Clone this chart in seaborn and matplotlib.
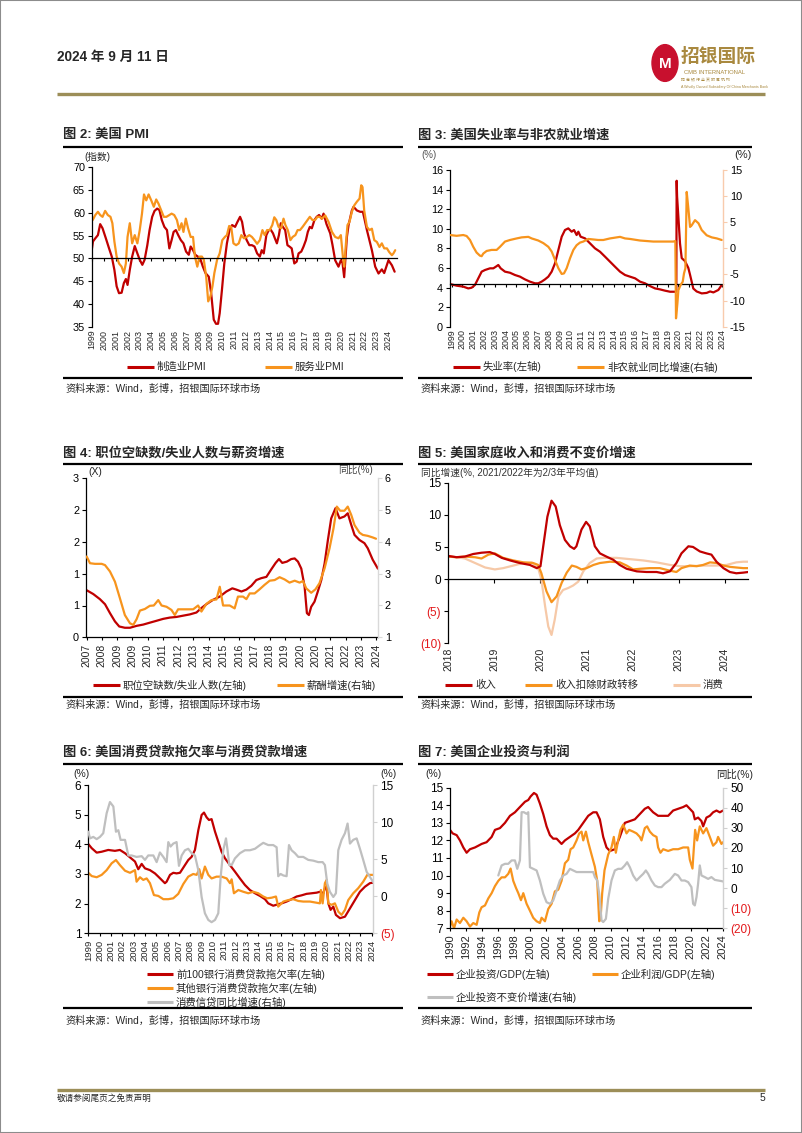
import matplotlib
matplotlib.use("Agg")
import matplotlib.pyplot as plt
import seaborn as sns
from matplotlib.lines import Line2D
from matplotlib.patches import Circle, Rectangle

# ---------------- data ----------------
# Chart 2: US PMI
c2_mfg_x = [1999.0,1999.08,1999.28,1999.5,1999.69,1999.89,2000.17,2000.44,2000.67,2000.89,2001.08,2001.28,2001.5,2001.69,2001.86,2002.0,
            2002.19,2002.39,2002.61,2002.83,2003.03,2003.25,2003.44,2003.67,2003.86,2004.08,2004.28,2004.5,2004.69,2004.89,2005.11,2005.33,
            2005.53,2005.72,2005.89,2006.08,2006.28,2006.5,2006.72,2006.94,2007.17,2007.33,2007.53,2007.72,2007.94,2008.17,2008.36,2008.58,
            2008.86,2009.06,2009.28,2009.47,2009.64,2009.78,2009.97,2010.17,2010.39,2010.61,2010.83,2011.08,2011.28,2011.5,2011.67,2011.83,
            2012.06,2012.28,2012.5,2012.72,2012.94,2013.17,2013.33,2013.5,2013.72,2013.92,2014.11,2014.28,2014.44,2014.61,2014.78,2014.94,
            2015.11,2015.31,2015.5,2015.67,2015.86,2016.08,2016.28,2016.44,2016.67,2016.86,2017.06,2017.22,2017.39,2017.56,2017.78,2017.97,
            2018.17,2018.39,2018.55,2018.8,2019.11,2019.3,2019.53,2019.81,2020.01,2020.15,2020.29,2020.52,2020.66,2020.94,2021.08,2021.36,
            2021.64,2021.87,2022.21,2022.63,2022.91,2023.19,2023.47,2023.67,2024.03,2024.32,2024.55]
c2_mfg = [52.2,53.7,54.4,55.1,57.5,56.6,54.4,52.2,50.4,47.5,43.9,42.4,42.5,44.6,45.5,44.2,
          47.5,50.4,52.7,51.1,49.7,48.6,49.7,52.9,56.2,59.1,60.4,60.9,60.6,58.4,56.9,56.2,
          52.2,54.0,55.8,56.2,55.1,54.0,53.3,51.5,50.8,52.6,51.8,50.8,50.4,49.7,48.2,46.8,
          46.0,42.4,36.6,35.7,35.7,38.0,43.1,48.9,53.3,56.2,57.3,56.9,58.0,59.1,58.0,55.5,
          54.0,52.9,52.9,52.6,51.1,50.4,51.8,51.1,55.1,56.2,56.2,55.5,54.4,53.3,55.1,57.7,
          56.9,56.2,52.9,52.6,52.2,48.9,49.3,51.1,51.5,52.6,54.0,55.8,56.9,56.6,58.4,59.1,
          59.5,58.7,59.8,57.5,55.5,53.0,49.6,48.2,49.6,49.0,45.9,54.7,57.3,60.5,61.3,60.5,
          60.2,60.2,56.2,51.8,48.2,46.7,47.6,46.8,49.6,48.5,47.1]
c2_svc_x = [1999.0,1999.06,1999.28,1999.5,1999.69,1999.89,2000.11,2000.33,2000.56,2000.72,2000.89,2001.08,2001.28,2001.5,2001.69,2001.86,
            2002.0,2002.19,2002.39,2002.61,2002.83,2003.03,2003.22,2003.39,2003.58,2003.78,2004.0,2004.22,2004.42,2004.61,2004.83,2005.06,
            2005.28,2005.53,2005.72,2005.94,2006.17,2006.36,2006.56,2006.72,2006.92,2007.11,2007.33,2007.53,2007.69,2007.89,2008.08,2008.28,
            2008.44,2008.64,2008.81,2009.0,2009.17,2009.33,2009.56,2009.78,2010.0,2010.22,2010.39,2010.58,2010.75,2010.94,2011.17,2011.39,
            2011.61,2011.83,2012.06,2012.28,2012.5,2012.72,2012.94,2013.17,2013.39,2013.58,2013.78,2014.0,2014.22,2014.39,2014.56,2014.75,
            2014.97,2015.17,2015.33,2015.53,2015.75,2015.94,2016.17,2016.36,2016.56,2016.78,2017.0,2017.19,2017.39,2017.61,2017.83,2018.03,
            2018.22,2018.41,2018.69,2018.97,2019.26,2019.53,2019.81,2020.01,2020.18,2020.29,2020.46,2020.57,2020.74,2020.94,2021.14,2021.36,
            2021.59,2021.73,2021.84,2021.98,2022.21,2022.43,2022.63,2022.83,2023.05,2023.27,2023.47,2023.67,2023.9,2024.09,2024.32,2024.45,2024.6]
c2_svc = [58.7,58.4,59.5,60.2,59.5,59.1,60.4,59.5,59.1,57.7,53.7,50.4,48.9,48.2,46.8,48.9,
          54.7,57.7,53.3,55.1,53.3,56.2,59.8,64.0,62.7,64.0,62.7,61.3,62.9,62.0,60.6,59.1,
          59.1,59.5,59.8,59.5,58.4,56.2,57.7,55.8,58.7,56.6,54.7,54.7,50.4,48.2,50.4,50.4,
          49.7,46.0,40.6,41.7,43.9,46.8,49.7,51.1,54.0,54.7,55.1,57.1,56.9,53.3,52.9,53.3,
          55.1,54.4,54.7,55.1,54.7,54.0,53.2,54.0,56.2,55.1,56.2,56.2,57.3,59.0,58.4,56.9,
          56.6,58.7,57.3,56.2,54.0,54.7,55.1,56.2,56.2,56.9,57.7,58.4,59.1,58.4,58.4,59.1,
          59.1,58.7,59.4,58.0,55.8,54.7,54.4,55.1,50.4,48.2,54.0,57.3,58.0,60.2,61.6,62.4,
          63.1,66.0,65.6,60.5,56.9,56.2,56.5,54.0,53.6,52.5,53.3,52.2,52.2,51.4,50.7,51.1,51.8]
c2_years = [str(y) for y in range(1999, 2025)]

# Chart 3: unemployment rate (left) and nonfarm payroll yoy (right)
c3_ur_x = [1998.85,1999.46,2000.08,2000.54,2000.85,2001.16,2001.47,2001.78,2002.09,2002.55,2002.86,2003.1,2003.32,2003.54,2003.94,2004.4,
           2004.86,2005.33,2005.79,2006.25,2006.72,2007.02,2007.33,2007.64,2007.95,2008.26,2008.57,2008.88,2009.19,2009.49,2009.8,2010.11,
           2010.33,2010.57,2010.73,2010.94,2011.35,2011.81,2012.27,2012.73,2013.2,2013.66,2014.12,2014.59,2015.05,2015.51,2015.98,2016.44,
           2016.9,2017.36,2017.83,2018.29,2018.75,2019.22,2019.68,2019.8,2019.83,2019.87,2019.99,2020.14,2020.3,2020.6,2020.91,2021.07,
           2021.37,2021.68,2022.15,2022.61,2022.92,2023.23,2023.69,2024.0]
c3_ur = [4.36,4.19,4.09,3.91,3.98,4.26,4.94,5.62,5.79,5.96,5.96,6.13,6.30,5.96,5.62,5.51,
         5.28,5.11,4.83,4.60,4.43,4.43,4.60,4.83,5.11,5.62,6.47,7.83,9.19,9.87,10.04,9.70,
         9.87,9.36,9.70,9.19,9.02,8.51,8.00,7.66,7.15,6.64,6.13,5.62,5.28,5.11,4.94,4.60,
         4.43,4.15,3.91,3.81,3.68,3.57,3.57,3.6,14.9,13.3,11.2,8.5,7.0,6.7,6.0,5.3,
         3.9,3.6,3.4,3.45,3.6,3.5,3.75,4.25]
c3_nfp_x = [1998.85,1999.46,2000.08,2000.39,2000.7,2001.0,2001.31,2001.62,2001.78,2001.93,2002.24,2002.7,2003.17,2003.48,2003.94,2004.4,
            2005.02,2005.48,2006.1,2006.41,2007.02,2007.49,2007.95,2008.26,2008.57,2008.88,2009.19,2009.4,2009.65,2009.96,2010.27,2010.57,
            2010.88,2011.19,2011.65,2012.58,2013.04,2013.66,2014.59,2015.05,2015.51,2016.44,2017.67,2018.91,2019.52,2019.71,2019.77,2019.9,
            2019.99,2020.2,2020.39,2020.51,2020.64,2020.76,2020.91,2021.07,2021.22,2021.53,2021.85,2022.15,2022.61,2023.08,2023.55,2024.0]
c3_nfp = [2.55,2.4,2.55,2.36,1.6,0.3,-0.8,-1.4,-1.5,-1.0,-0.5,-0.3,-0.3,0.3,1.3,1.6,
          1.9,2.1,2.2,1.9,1.5,1.0,0.3,-0.6,-2.2,-3.8,-4.9,-4.8,-3.8,-1.9,-0.3,0.6,
          1.1,1.3,1.8,1.6,1.6,1.9,2.2,1.9,1.8,1.5,1.3,1.3,1.3,1.4,-13.4,-10.5,
          -8.0,-7.0,-6.4,-4.8,-3.8,10.8,7.7,4.1,4.4,5.4,4.8,3.5,2.5,2.1,1.9,1.6]
c3_years = [str(y) for y in range(1999, 2025)]

# Chart 4: job openings / unemployed (left) and wage growth (right)
c4_vu_x = [2007.0,2007.4,2007.8,2008.11,2008.41,2008.71,2008.97,2009.31,2009.62,2010.02,2010.42,2010.82,2011.23,2011.63,2012.03,2012.43,
           2012.83,2013.24,2013.64,2013.94,2014.24,2014.65,2015.05,2015.45,2015.81,2016.05,2016.36,2016.66,2016.96,2017.26,2017.56,2017.87,
           2018.17,2018.43,2018.63,2018.83,2019.11,2019.37,2019.58,2019.78,2019.98,2020.18,2020.32,2020.44,2020.58,2020.78,2020.98,2021.19,
           2021.39,2021.59,2021.79,2022.05,2022.29,2022.59,2022.79,2023.0,2023.2,2023.5,2023.8,2024.0,2024.3,2024.61]
c4_vu = [0.74,0.68,0.60,0.52,0.38,0.25,0.17,0.15,0.15,0.18,0.20,0.23,0.26,0.29,0.31,0.32,
         0.34,0.36,0.39,0.46,0.52,0.59,0.64,0.72,0.77,0.75,0.72,0.75,0.81,0.90,0.93,0.95,
         1.07,1.17,1.23,1.17,1.19,1.23,1.24,1.19,1.08,0.80,0.38,0.35,0.48,0.56,0.72,0.90,
         1.16,1.53,1.87,2.03,1.87,1.90,1.95,1.77,1.61,1.53,1.48,1.40,1.22,1.08]
c4_wage_x = [2007.0,2007.2,2007.5,2007.91,2008.11,2008.41,2008.71,2009.01,2009.31,2009.62,2009.82,2010.02,2010.22,2010.52,2010.82,2011.06,
             2011.33,2011.53,2011.83,2012.13,2012.33,2012.53,2012.94,2013.44,2013.74,2013.94,2014.24,2014.55,2014.85,2015.05,2015.25,2015.65,
             2015.95,2016.15,2016.46,2016.66,2016.86,2017.16,2017.46,2017.76,2018.07,2018.37,2018.67,2018.97,2019.27,2019.58,2019.88,2020.08,
             2020.28,2020.58,2020.84,2021.08,2021.39,2021.69,2021.93,2022.13,2022.33,2022.59,2022.79,2023.0,2023.2,2023.5,2023.7,2024.0,
             2024.3,2024.5]
c4_wage = [3.54,3.33,3.31,3.31,3.27,3.07,2.75,2.23,1.70,1.44,1.39,1.57,1.84,1.89,1.99,2.00,
           2.17,2.00,1.96,1.86,1.70,1.88,1.88,1.88,2.00,1.81,2.05,2.17,2.19,2.59,2.00,2.00,
           1.91,2.28,2.28,2.20,2.38,2.38,2.51,2.65,2.78,2.80,2.89,2.82,2.72,2.78,2.72,2.77,
           2.54,2.40,2.51,2.70,3.17,3.80,4.43,5.11,4.98,4.98,5.11,4.85,4.53,4.29,4.22,4.19,
           4.14,4.10]
c4_labels = ['2007','2008','2009','2009','2010','2011','2012','2013','2014','2015','2016','2017','2018','2019','2020','2020',
             '2021','2022','2023','2024']
c4_left_labels = ['0','1','1','2','2','3']

# Chart 5: household income and consumption growth
c5_inc_x = [2018.0,2018.18,2018.36,2018.54,2018.72,2018.9,2019.01,2019.16,2019.34,2019.55,2019.77,2019.92,2020.0,2020.06,2020.15,2020.24,
            2020.33,2020.42,2020.53,2020.64,2020.73,2020.78,2020.89,2020.99,2021.07,2021.18,2021.29,2021.43,2021.58,2021.72,2021.87,2022.09,
            2022.3,2022.52,2022.66,2022.81,2022.95,2023.06,2023.21,2023.31,2023.46,2023.6,2023.71,2023.82,2023.97,2024.11,2024.25,2024.4,2024.51]
c5_inc = [3.6,3.4,3.5,3.9,4.1,4.2,3.9,3.3,2.9,2.5,2.2,1.7,2.0,5.1,9.7,12.2,
          11.3,8.4,6.1,5.1,4.7,5.1,7.7,8.9,8.2,5.1,4.0,3.5,3.0,2.2,1.6,1.2,
          1.1,1.1,0.9,1.2,2.5,4.0,5.1,5.0,4.3,4.0,3.8,2.7,1.7,1.1,0.9,1.0,1.1]
c5_exT_x = [2018.0,2018.18,2018.36,2018.58,2018.72,2018.87,2019.01,2019.19,2019.41,2019.63,2019.84,2019.95,2020.02,2020.13,2020.24,2020.35,
            2020.46,2020.57,2020.68,2020.78,2020.89,2021.0,2021.15,2021.29,2021.51,2021.72,2021.87,2022.01,2022.16,2022.37,2022.59,2022.81,
            2022.95,2023.06,2023.24,2023.39,2023.53,2023.68,2023.82,2023.97,2024.11,2024.25,2024.4,2024.51]
c5_exT = [3.5,3.4,3.5,3.4,3.2,3.8,4.0,3.3,2.9,2.6,2.5,2.2,0.9,-1.9,-3.6,-2.7,
          -0.6,1.0,2.1,1.9,1.5,1.7,2.2,2.5,2.7,2.6,2.1,1.5,1.6,1.7,1.7,1.3,
          1.1,1.7,2.1,2.0,2.2,2.6,2.5,2.1,1.9,1.8,1.7,1.7]
c5_con_x = [2018.0,2018.18,2018.36,2018.58,2018.8,2019.01,2019.19,2019.41,2019.63,2019.81,2019.95,2020.02,2020.1,2020.17,2020.24,2020.31,
            2020.39,2020.49,2020.6,2020.71,2020.82,2020.93,2021.07,2021.22,2021.36,2021.65,2021.94,2022.23,2022.52,2022.81,2023.03,2023.24,
            2023.53,2023.82,2024.04,2024.25,2024.4,2024.51]
c5_con = [3.5,3.4,3.2,2.5,1.8,1.5,1.7,2.1,2.5,2.6,1.7,-0.1,-4.2,-7.4,-8.7,-6.3,
          -2.7,-1.7,-1.4,-1.0,-0.4,1.2,2.5,3.2,3.3,3.3,3.1,2.9,2.6,2.2,2.0,2.0,
          2.1,2.1,2.2,2.6,2.7,2.7]
c5_years = [str(y) for y in range(2018, 2025)]
c5_ylabels = ['(10)', '(5)', '0', '5', '10', '15']

# Chart 6: consumer loan delinquency and consumer credit growth
c6_top_x = [1999.0,1999.3,1999.74,2000.18,2000.76,2001.35,2001.79,2002.24,2002.68,2003.12,2003.41,2003.71,2004.0,2004.44,2004.88,2005.18,
            2005.47,2005.76,2005.91,2006.21,2006.5,2006.79,2007.09,2007.53,2007.82,2008.12,2008.41,2008.71,2009.0,2009.21,2009.44,2009.65,
            2009.88,2010.18,2010.47,2010.76,2011.06,2011.5,2011.94,2012.38,2012.82,2013.26,2013.71,2014.15,2014.59,2014.88,2015.32,2015.76,
            2016.06,2016.5,2016.94,2017.38,2017.82,2018.26,2018.71,2019.15,2019.44,2019.74,2019.88,2020.03,2020.18,2020.38,2020.62,2020.85,
            2021.21,2021.65,2022.09,2022.53,2022.97,2023.41,2023.85,2024.15]
c6_top = [4.01,3.87,3.72,3.75,3.81,3.78,3.81,3.70,3.56,3.42,3.16,3.34,3.19,3.13,3.02,2.91,
          2.80,2.69,2.74,2.97,3.04,3.02,3.04,3.30,3.47,3.58,3.81,4.48,4.99,5.07,4.91,4.82,
          4.85,4.43,4.09,3.75,3.53,3.30,3.08,2.85,2.63,2.46,2.35,2.26,2.15,2.01,1.93,1.98,
          2.01,2.07,2.15,2.24,2.28,2.33,2.35,2.37,2.40,2.35,2.52,2.57,2.01,1.79,1.90,1.62,
          1.51,1.56,1.84,2.12,2.40,2.57,2.69,2.71]
c6_oth_x = [1999.0,1999.3,1999.74,2000.18,2000.62,2001.06,2001.44,2001.79,2002.24,2002.68,2003.12,2003.26,2003.56,2003.85,2004.15,2004.44,
            2004.79,2005.18,2005.62,2006.06,2006.5,2006.94,2007.38,2007.82,2008.26,2008.56,2008.79,2009.0,2009.29,2009.59,2009.88,2010.32,
            2010.76,2011.21,2011.5,2011.65,2011.85,2012.24,2012.68,2013.12,2013.56,2014.0,2014.44,2014.79,2015.18,2015.56,2015.76,2016.21,
            2016.65,2017.09,2017.53,2017.97,2018.56,2019.15,2019.44,2019.53,2019.68,2019.88,2020.03,2020.18,2020.47,2020.76,2021.06,2021.35,
            2021.65,2021.94,2022.38,2022.82,2023.26,2023.62,2023.85,2024.15]
c6_oth = [3.04,2.93,2.89,2.97,3.13,3.36,3.47,3.30,3.11,3.04,3.13,2.74,2.89,2.80,2.85,2.69,
          2.29,2.26,2.15,2.15,2.18,2.33,2.66,2.91,3.00,2.97,3.16,2.85,3.25,2.97,2.85,2.91,
          2.91,2.85,2.69,2.82,2.35,2.46,2.40,2.35,2.40,2.35,2.24,2.18,2.20,2.24,1.90,2.07,
          2.12,2.15,2.09,2.07,2.07,2.03,2.01,2.46,2.01,2.69,2.80,2.01,1.96,2.01,1.73,1.62,
          1.79,2.12,2.35,2.52,2.74,2.97,2.97,2.97]
c6_cc_x = [1999.0,1999.15,1999.44,1999.74,2000.03,2000.32,2000.62,2000.91,2001.21,2001.44,2001.65,2001.85,2002.24,2002.53,2002.82,2003.26,
           2003.71,2004.0,2004.29,2004.74,2005.03,2005.32,2005.62,2005.91,2006.06,2006.26,2006.5,2006.79,2007.0,2007.24,2007.53,2007.82,
           2008.12,2008.41,2008.71,2009.0,2009.29,2009.59,2009.88,2010.18,2010.47,2010.68,2010.91,2011.15,2011.29,2011.44,2011.65,2011.94,
           2012.38,2012.82,2013.26,2013.71,2014.15,2014.44,2014.88,2015.32,2015.62,2015.76,2015.97,2016.21,2016.5,2016.71,2016.94,2017.24,
           2017.53,2017.97,2018.41,2018.85,2019.29,2019.68,2019.88,2020.09,2020.32,2020.62,2020.85,2021.06,2021.35,2021.65,2021.88,2022.09,
           2022.38,2022.68,2022.97,2023.26,2023.56,2023.85,2024.15]
c6_cc = [8.7,7.8,8.0,7.7,8.0,8.5,11.2,12.7,12.1,8.7,8.9,7.6,7.6,5.5,5.5,5.3,
         5.4,4.9,5.5,5.5,4.6,5.9,5.3,4.6,7.3,6.7,7.1,7.3,4.1,5.5,6.2,6.4,
         5.8,5.5,3.5,-0.1,-2.3,-3.2,-3.5,-3.2,-2.3,2.6,6.2,7.8,6.2,4.2,4.2,5.1,
         5.8,6.2,6.2,6.4,6.9,7.2,6.9,6.9,6.6,2.7,3.0,2.8,2.7,6.9,6.2,5.8,
         5.3,5.3,4.9,4.8,4.6,4.6,4.2,1.7,0.6,-0.1,0.4,6.2,7.6,8.5,9.8,7.1,
         7.6,7.8,6.4,4.9,3.3,2.6,1.9]
c6_years = [str(y) for y in range(1999, 2025)]
c6_right_labels = ['(5)', '0', '5', '10', '15']

# Chart 7: business investment and profits
c7_inv_x = [1990.0,1990.33,1990.83,1991.24,1991.66,1992.07,1992.49,1993.11,1993.53,1993.94,1994.56,1995.19,1995.6,1996.22,1996.85,1997.47,
            1998.09,1998.71,1999.34,1999.75,2000.04,2000.46,2000.79,2001.2,2001.62,2002.03,2002.45,2002.86,2003.28,2003.9,2004.32,2004.94,
            2005.56,2005.98,2006.6,2007.22,2007.84,2008.26,2008.67,2009.09,2009.5,2009.92,2010.54,2011.16,2011.78,2012.41,2013.03,2013.65,
            2014.27,2014.69,2015.31,2015.93,2016.56,2017.18,2017.8,2018.42,2019.05,2019.46,2019.88,2020.29,2020.5,2020.91,2021.33,2021.54,
            2021.95,2022.37,2022.78,2023.2,2023.61,2024.02]
c7_inv = [12.6,12.4,12.3,12.0,11.6,11.3,11.5,11.6,11.7,11.8,11.9,12.2,12.6,12.7,13.0,13.4,
          13.6,13.9,14.2,14.3,14.5,14.7,14.6,14.1,13.5,12.8,12.3,12.1,12.1,11.8,12.0,12.2,
          12.4,12.6,13.0,13.4,13.6,13.6,13.2,12.2,11.6,11.4,11.5,12.2,13.0,13.1,13.2,13.5,
          13.8,13.9,13.6,13.4,13.4,13.4,13.7,13.8,13.9,14.0,13.8,13.6,13.2,13.3,13.1,12.8,
          13.3,13.4,13.6,13.7,13.6,13.7]
c7_prof_x = [1990.0,1990.2,1990.5,1990.83,1991.24,1991.66,1992.07,1992.49,1992.9,1993.32,1993.65,1993.94,1994.36,1994.77,1995.19,1995.6,
             1996.02,1996.43,1996.85,1997.26,1997.55,1997.88,1998.22,1998.51,1998.84,1999.13,1999.54,1999.96,2000.37,2000.79,2001.2,2001.41,
             2001.83,2002.24,2002.66,2003.07,2003.49,2003.9,2004.32,2004.73,2005.02,2005.35,2005.77,2006.1,2006.39,2006.6,2006.93,2007.22,
             2007.63,2008.05,2008.34,2008.59,2008.75,2008.96,2009.25,2009.71,2010.12,2010.41,2010.66,2010.95,2011.24,2011.58,2011.99,2012.32,
             2012.82,2013.24,2013.65,2013.86,2014.27,2014.56,2014.9,2015.31,2015.73,2015.93,2016.22,2016.56,2017.18,2017.8,2018.42,2019.05,
             2019.67,2019.88,2020.21,2020.37,2020.54,2020.79,2021.12,2021.54,2021.95,2022.37,2022.78,2023.2,2023.4,2023.82,2024.02]
c7_prof = [7.1,7.4,7.0,7.5,7.3,7.6,7.4,7.1,7.3,7.2,7.9,8.2,8.3,8.7,9.0,9.4,
           9.7,9.9,9.9,10.1,10.4,9.7,9.3,9.0,8.6,9.0,8.4,8.0,7.6,7.4,7.3,7.6,
           7.4,8.1,8.4,9.1,9.2,9.7,10.7,10.9,11.5,11.6,12.0,12.4,12.5,12.0,12.5,11.9,
           11.2,10.5,9.7,7.4,7.5,9.0,10.3,11.2,11.6,12.2,11.3,12.0,12.6,12.9,12.4,12.6,
           12.5,12.4,12.2,12.0,12.7,12.8,12.5,12.3,12.2,11.6,11.3,11.5,11.4,11.5,11.5,11.6,
           11.6,10.9,10.4,11.5,12.6,12.0,12.8,12.4,12.7,12.2,11.7,11.9,12.2,11.8,11.9]
c7_gr_x = [1996.02,1996.43,1996.85,1997.26,1997.68,1998.09,1998.38,1998.71,1998.92,1999.21,1999.54,1999.75,1999.96,2000.37,2000.79,2001.2,
           2001.62,2002.03,2002.45,2002.86,2003.28,2003.69,2004.11,2004.52,2004.94,2005.35,2005.77,2006.18,2006.6,2007.01,2007.43,2007.84,
           2008.05,2008.34,2008.59,2008.88,2009.09,2009.42,2009.71,2010.12,2010.54,2010.95,2011.37,2011.78,2012.07,2012.41,2012.82,2013.24,
           2013.65,2014.07,2014.4,2014.69,2015.1,2015.52,2015.93,2016.35,2016.76,2017.39,2018.01,2018.42,2018.84,2019.25,2019.67,2020.08,
           2020.29,2020.5,2020.71,2020.91,2021.12,2021.33,2021.74,2022.16,2022.57,2022.99,2023.4,2023.82,2024.02]
c7_gr = [6.3,11.3,12.1,12.1,13.8,13.8,9.6,13.8,37.8,37.8,37.0,37.8,10.4,9.6,8.8,3.8,
         -2.8,-7.0,-7.8,-6.1,-1.2,3.8,6.3,7.1,9.6,8.8,8.0,8.0,8.0,8.0,8.0,8.0,
         5.5,3.8,-2.8,-16.1,-16.9,-15.3,-5.3,3.8,8.8,9.6,9.6,11.3,12.9,10.4,6.3,3.8,
         5.5,7.1,8.8,7.1,3.8,1.3,0.5,0.5,2.2,4.1,7.1,6.3,3.8,3.8,3.0,0.5,
         -7.8,-8.6,-4.5,2.2,11.3,6.3,5.5,4.6,5.5,4.1,3.8,3.5,3.3]
c7_years = [str(y) for y in range(1990, 2025, 2)]
c7_right_labels = ['(20)', '(10)', '0', '10', '20', '30', '40', '50']

# ---------------- styling ----------------
RED = '#C00000'
ORANGE = '#F7941D'
PEACH = '#F6C9A8'
GRAY = '#BFBFBF'
NEG = '#E3191C'
GOLD = '#9C8E58'
W, H = 802, 1133

sns.set_theme(style='white')
plt.rcParams['font.family'] = ['Liberation Sans', 'Noto Sans CJK SC']
plt.rcParams['axes.unicode_minus'] = False

fig = plt.figure(figsize=(W / 100, H / 100), dpi=100)
fig.patch.set_facecolor('white')


def add_ax(l, t, r, b):
    ax = fig.add_axes([l / W, 1 - b / H, (r - l) / W, (b - t) / H])
    ax.set_facecolor('none')
    return ax


def ftext(x, y, s, size, **kw):
    kw.setdefault('va', 'center')
    kw.setdefault('ha', 'left')
    fig.text(x / W, 1 - y / H, s, fontsize=size, **kw)


def fline(x0, x1, y, color='black', lw=1.5):
    fig.add_artist(Line2D([x0 / W, x1 / W], [1 - y / H, 1 - y / H], color=color, lw=lw,
                          transform=fig.transFigure, solid_capstyle='butt'))


def draw(ax, x, y, color, lw=1.6):
    sns.lineplot(x=x, y=y, ax=ax, color=color, linewidth=lw, estimator=None, sort=False, legend=False)
    ax.set_xlabel('')
    ax.set_ylabel('')


def left_style(ax, yticks, labels, size, colors=None):
    for s in ['top', 'right']:
        ax.spines[s].set_visible(False)
    for s in ['left', 'bottom']:
        ax.spines[s].set_color('black')
        ax.spines[s].set_linewidth(0.9)
    ax.set_yticks(yticks)
    ax.set_yticklabels(labels)
    ax.tick_params(axis='y', left=True, direction='out', length=3, width=0.8, labelsize=size, pad=2,
                   colors='black')
    if colors:
        for t, c in zip(ax.get_yticklabels(), colors):
            t.set_color(c)
    ax.grid(False)


def right_style(ax2, ylim, yticks, labels, size, spine_color, colors=None):
    ax2.set_ylim(*ylim)
    for s in ['top', 'left', 'bottom']:
        ax2.spines[s].set_visible(False)
    ax2.spines['right'].set_color(spine_color)
    ax2.spines['right'].set_linewidth(1.0)
    ax2.set_yticks(yticks)
    ax2.set_yticklabels(labels)
    ax2.tick_params(axis='y', right=True, left=False, direction='out', length=3, width=0.8,
                    color=spine_color, labelsize=size, pad=2, labelcolor='black')
    if colors:
        for t, c in zip(ax2.get_yticklabels(), colors):
            t.set_color(c)
    ax2.grid(False)


def x_labels(ax, pos, labels, size, pad=2, ticklen=2.5):
    ax.set_xticks(pos)
    ax.tick_params(axis='x', bottom=True, direction='out', length=ticklen, width=0.8, color='black',
                   labelbottom=False)
    sec = ax.secondary_xaxis('bottom')
    sec.set_xticks(pos)
    sec.set_xticklabels(labels, rotation=90, fontsize=size)
    sec.tick_params(axis='x', length=0, pad=pad)
    sec.spines['bottom'].set_visible(False)
    return sec


def legend_item(x0, y, color, label, size=7.5, length=27, lw=2.2):
    fline(x0, x0 + length, y, color=color, lw=lw)
    ftext(x0 + length + 3, y, label, size)


# ---------------- page furniture ----------------
fig.add_artist(Rectangle((0, 0), 1, 1, transform=fig.transFigure, fill=False, edgecolor='#8c8c8c', lw=1.5))
ftext(57, 57, '2024 年 9 月 11 日', 9.8, fontweight='bold')
fline(57, 765, 94, color=GOLD, lw=2.4)
fig.add_artist(Circle((665 / W, 1 - 63 / H), 13 / W, transform=fig.transFigure, color='#C8102E'))
ftext(665, 64, 'M', 11, ha='center', color='white', fontweight='bold')
ftext(681, 57, '招银国际', 13.5, color='#A9893F', fontweight='bold')
ftext(684, 72, 'CMB INTERNATIONAL', 4.2, color='#A9893F')
ftext(681, 81, '招 商 银 行 全 资 附 属 机 构', 2.8, color='#A9893F')
ftext(681, 87, 'A Wholly Owned Subsidiary Of China Merchants Bank', 2.6, color='#A9893F')
fline(57, 765, 1090, color=GOLD, lw=2.4)
ftext(57, 1098, '敬请参阅尾页之免责声明', 6.2)
ftext(765, 1098, '5', 7.5, ha='right')

# titles, rules, sources
for (x0, x1, ty, r1, r2, sy, title) in [
        (63, 403, 135, 147, 378, 389, '图 2: 美国 PMI'),
        (418, 752, 135, 147, 378, 389, '图 3: 美国失业率与非农就业增速'),
        (63, 403, 453, 464, 697, 705, '图 4: 职位空缺数/失业人数与薪资增速'),
        (418, 752, 453, 464, 697, 705, '图 5: 美国家庭收入和消费不变价增速'),
        (63, 403, 752, 764, 1008, 1021, '图 6: 美国消费贷款拖欠率与消费贷款增速'),
        (418, 752, 752, 764, 1008, 1021, '图 7: 美国企业投资与利润')]:
    ftext(x0, ty, title, 9.5, fontweight='bold')
    fline(x0, x1, r1, lw=1.6)
    fline(x0, x1, r2, lw=1.6)
    ftext(x0 + 2, sy, '资料来源：Wind，彭博，招银国际环球市场', 7.3)

# ---------------- chart 2 ----------------
ax = add_ax(92, 167, 397, 327)
draw(ax, c2_mfg_x, c2_mfg, RED)
draw(ax, c2_svc_x, c2_svc, ORANGE)
ax.set_xlim(1999.0, 2024.75)
ax.set_ylim(35, 70)
left_style(ax, list(range(35, 71, 5)), [str(v) for v in range(35, 71, 5)], 7.8)
ax.spines['bottom'].set_position(('data', 50))
x_labels(ax, list(range(1999, 2025)), c2_years, 6.4, pad=2)
ftext(84, 157, '(指数)', 7)
legend_item(127, 367, RED, '制造业PMI')
legend_item(265, 367, ORANGE, '服务业PMI')

# ---------------- chart 3 ----------------
ax = add_ax(450, 170, 723, 326.7)
draw(ax, c3_ur_x, c3_ur, RED)
ax.set_xlim(1998.85, 2024.12)
ax.set_ylim(0, 16)
left_style(ax, list(range(0, 17, 2)), [str(v) for v in range(0, 17, 2)], 7.8)
ax.spines['bottom'].set_position(('data', 4.35))
x_labels(ax, list(range(1999, 2025)), c3_years, 6.4, pad=2)
ax2 = ax.twinx()
draw(ax2, c3_nfp_x, c3_nfp, ORANGE)
ax2.set_xlim(1998.85, 2024.12)
right_style(ax2, (-15, 15), list(range(-15, 16, 5)), [str(v) for v in range(-15, 16, 5)], 7.8, '#F8CBAD')
ftext(421, 155, '(%)', 7, color='#555555')
ftext(752, 155, '(%)', 8, ha='right')
legend_item(453, 367, RED, '失业率(左轴)')
legend_item(577, 367, ORANGE, '非农就业同比增速(右轴)')

# ---------------- chart 4 ----------------
ax = add_ax(86, 478.3, 378, 637.3)
draw(ax, c4_vu_x, c4_vu, RED)
ax.set_xlim(2006.96, 2024.62)
ax.set_ylim(0, 2.5)
left_style(ax, [0, 0.5, 1.0, 1.5, 2.0, 2.5], c4_left_labels, 7.8)
c4_pos = [2007 + 0.9215 * k for k in range(len(c4_labels))]
x_labels(ax, c4_pos, c4_labels, 7.5, pad=4.5, ticklen=2.5)
ax2 = ax.twinx()
draw(ax2, c4_wage_x, c4_wage, ORANGE)
ax2.set_xlim(2006.96, 2024.62)
right_style(ax2, (1, 6), [1, 2, 3, 4, 5, 6], ['1', '2', '3', '4', '5', '6'], 7.8, '#D9D9D9')
ftext(88, 472, '(X)', 7.5)
ftext(373, 470, '同比(%)', 7, ha='right', color='#444444')
legend_item(93, 685, RED, '职位空缺数/失业人数(左轴)')
legend_item(277, 685, ORANGE, '薪酬增速(右轴)')

# ---------------- chart 5 ----------------
ax = add_ax(448.3, 482.7, 748.3, 643.3)
draw(ax, c5_con_x, c5_con, PEACH)
draw(ax, c5_exT_x, c5_exT, ORANGE)
draw(ax, c5_inc_x, c5_inc, RED)
ax.set_xlim(2018.0, 2024.51)
ax.set_ylim(-10, 15)
left_style(ax, [-10, -5, 0, 5, 10, 15], c5_ylabels, 8.5,
           colors=[NEG, NEG, 'black', 'black', 'black', 'black'])
ax.spines['bottom'].set_position(('data', 0))
x_labels(ax, list(range(2018, 2025)), c5_years, 7.5, pad=3, ticklen=3)
ftext(421, 473, '同比增速(%, 2021/2022年为2/3年平均值)', 7, color='#333333')
legend_item(445, 685, RED, '收入')
legend_item(525, 685, ORANGE, '收入扣除财政转移')
legend_item(673, 685, PEACH, '消费')

# ---------------- chart 6 ----------------
ax = add_ax(88.3, 785, 373.3, 933.3)
draw(ax, c6_top_x, c6_top, RED)
draw(ax, c6_oth_x, c6_oth, ORANGE)
ax.set_xlim(1999.0, 2024.15)
ax.set_ylim(1, 6)
left_style(ax, [1, 2, 3, 4, 5, 6], ['1', '2', '3', '4', '5', '6'], 8.5)
x_labels(ax, list(range(1999, 2025)), c6_years, 6.8, pad=4.5)
ax2 = ax.twinx()
draw(ax2, c6_cc_x, c6_cc, GRAY)
ax2.set_xlim(1999.0, 2024.15)
right_style(ax2, (-5, 15), [-5, 0, 5, 10, 15], c6_right_labels, 8.5, '#D0D0D0',
            colors=[NEG, 'black', 'black', 'black', 'black'])
ftext(73, 774, '(%)', 7.5)
ftext(397, 774, '(%)', 7.5, ha='right')
legend_item(147, 974, RED, '前100银行消费贷款拖欠率(左轴)', length=26)
legend_item(147, 988, ORANGE, '其他银行消费贷款拖欠率(左轴)', length=26)
legend_item(147, 1002, GRAY, '消费信贷同比增速(右轴)', length=26)

# ---------------- chart 7 ----------------
ax = add_ax(450, 787.7, 723.3, 928.3)
draw(ax, c7_inv_x, c7_inv, RED)
draw(ax, c7_prof_x, c7_prof, ORANGE)
ax.set_xlim(1990.0, 2024.05)
ax.set_ylim(7, 15)
left_style(ax, list(range(7, 16)), [str(v) for v in range(7, 16)], 8.5)
x_labels(ax, list(range(1990, 2025, 2)), c7_years, 8.0, pad=4.5)
ax2 = ax.twinx()
draw(ax2, c7_gr_x, c7_gr, GRAY)
ax2.set_xlim(1990.0, 2024.05)
right_style(ax2, (-20, 50), list(range(-20, 51, 10)), c7_right_labels, 8.5, '#D0D0D0',
            colors=[NEG, NEG] + ['black'] * 6)
ftext(425, 774, '(%)', 7.5)
ftext(753, 774, '同比(%)', 7.5, ha='right')
legend_item(427, 974, RED, '企业投资/GDP(左轴)', length=26)
legend_item(592, 974, ORANGE, '企业利润/GDP(左轴)', length=26)
legend_item(427, 997, GRAY, '企业投资不变价增速(右轴)', length=26)

fig.savefig('out.png', dpi=100, facecolor='white')
